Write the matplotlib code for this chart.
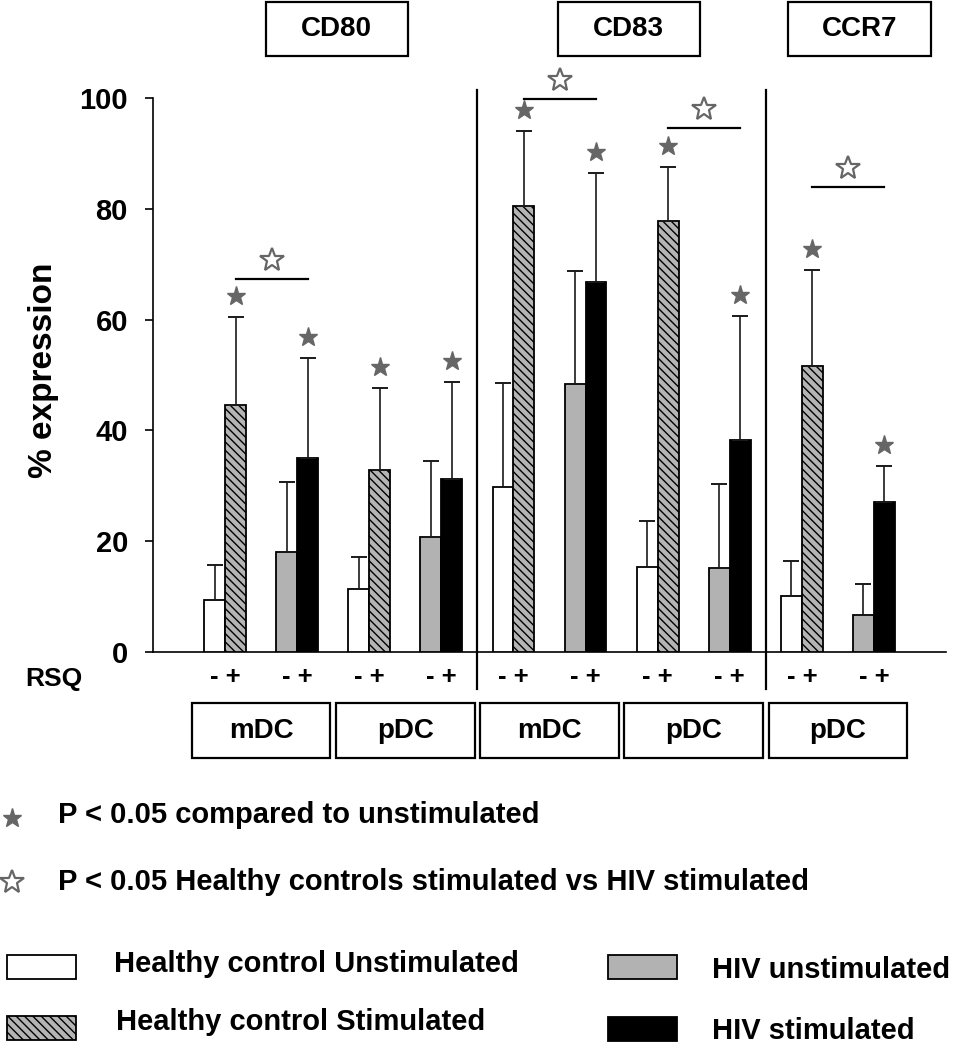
import matplotlib
matplotlib.use('Agg')
import matplotlib.pyplot as plt
import matplotlib.transforms as mtransforms
from matplotlib.patches import Rectangle
import numpy as np

plt.rcParams['font.family'] = ['Liberation Sans', 'DejaVu Sans']
plt.rcParams['font.weight'] = 'bold'
plt.rcParams['hatch.linewidth'] = 1.0

# data (one entry per marker / cell-type group)
markers = ['CD80', 'CD83', 'CCR7']
cells = ['mDC', 'pDC', 'mDC', 'pDC', 'pDC']
healthy_unstim = [9.4, 11.4, 29.7, 15.4, 10.1]
healthy_unstim_sd = [6.3, 5.8, 18.8, 8.3, 6.4]
healthy_stim = [44.5, 32.9, 80.5, 77.8, 51.7]
healthy_stim_sd = [15.9, 14.7, 13.5, 9.7, 17.2]
hiv_unstim = [18.1, 20.8, 48.3, 15.2, 6.7]
hiv_unstim_sd = [12.6, 13.7, 20.4, 15.2, 5.6]
hiv_stim = [35.1, 31.3, 66.7, 38.3, 27.1]
hiv_stim_sd = [17.9, 17.5, 19.7, 22.3, 6.4]
# healthy stimulated vs HIV stimulated comparisons
sig_groups = [0, 2, 3, 4]
sig_line = [67.3, 99.8, 94.6, 83.9]

W, H = 967, 1050
fig = plt.figure(figsize=(W / 100, H / 100), dpi=100)
ax = fig.add_axes([153 / W, 1 - 652 / H, (946 - 153) / W, (652 - 98) / H])

bw = 0.29
hatch_grey = '#b4b4b4'
star_grey = '#666666'
err_kw = dict(ecolor='#1a1a1a', elinewidth=1.2, capsize=6, capthick=1.4)
n = len(cells)
x_h = np.arange(n) * 2.0
x_v = x_h + 1.0

def upper(sd):
    return [np.zeros(len(sd)), sd]

ax.bar(x_h - bw / 2, healthy_unstim, bw, color='white', edgecolor='black', linewidth=1.3,
       yerr=upper(healthy_unstim_sd), error_kw=err_kw, zorder=3)
ax.bar(x_h + bw / 2, healthy_stim, bw, color=hatch_grey, edgecolor='black', linewidth=1.3,
       hatch='\\\\\\\\', yerr=upper(healthy_stim_sd), error_kw=err_kw, zorder=3)
ax.bar(x_v - bw / 2, hiv_unstim, bw, color='#b2b2b2', edgecolor='black', linewidth=1.3,
       yerr=upper(hiv_unstim_sd), error_kw=err_kw, zorder=3)
ax.bar(x_v + bw / 2, hiv_stim, bw, color='black', edgecolor='black', linewidth=1.3,
       yerr=upper(hiv_stim_sd), error_kw=err_kw, zorder=3)

# filled stars: stimulated vs unstimulated
top_h = np.array(healthy_stim) + np.array(healthy_stim_sd)
top_v = np.array(hiv_stim) + np.array(hiv_stim_sd)
ax.plot(x_h + bw / 2, top_h + 3.8, ls='none', marker='*', ms=14, color=star_grey,
        mec=star_grey, clip_on=False, zorder=4)
ax.plot(x_v + bw / 2, top_v + 3.8, ls='none', marker='*', ms=14, color=star_grey,
        mec=star_grey, clip_on=False, zorder=4)

# open stars + lines: healthy stimulated vs HIV stimulated
for g, yl in zip(sig_groups, sig_line):
    x0, x1 = x_h[g] + bw / 2, x_v[g] + bw / 2
    ax.plot([x0, x1], [yl, yl], color='black', lw=1.6, clip_on=False)
    ax.plot((x0 + x1) / 2, yl + 3.4, marker='*', ms=18, mfc='white', mec=star_grey,
            mew=1.6, clip_on=False, zorder=4)

# separators between markers
for xs in [3.5, 7.5]:
    ax.plot([xs, xs], [-6.7, 101.5], color='black', lw=1.6, clip_on=False)

ax.set_xlim(-1, 10)
ax.set_ylim(0, 100)
ax.set_yticks(np.arange(0, 101, 20))
ax.set_xticks([])
ax.tick_params(axis='y', direction='out', length=6, width=1.2, labelsize=21, pad=12)
for s in ['top', 'right']:
    ax.spines[s].set_visible(False)
for s in ['left', 'bottom']:
    ax.spines[s].set_linewidth(1.2)

trans = mtransforms.blended_transform_factory(ax.transData, fig.transFigure)

# RSQ - + labels
for xp in np.arange(2 * n):
    ax.text(xp, 1 - 677 / H, '- +', transform=trans, ha='center', va='center',
            fontsize=18.5, fontweight='bold')
fig.text(25 / W, 1 - 679 / H, 'RSQ', ha='left', va='center', fontsize=19, fontweight='bold')

# cell-type boxes below
for g, c in enumerate(cells):
    cx = x_h[g] + 0.5
    y0, y1 = 1 - 758 / H, 1 - 703 / H
    fig.add_artist(Rectangle((cx - 0.96, y0), 1.92, y1 - y0, transform=trans, fill=False,
                             edgecolor='black', lw=1.6, clip_on=False))
    ax.text(cx, (y0 + y1) / 2, c, transform=trans, ha='center', va='center',
            fontsize=20, fontweight='bold')

# marker boxes on top
for cx, m in zip([1.55, 5.6, 8.8], markers):
    y0, y1 = 1 - 56 / H, 1 - 2 / H
    fig.add_artist(Rectangle((cx - 0.985, y0), 1.97, y1 - y0, transform=trans, fill=False,
                             edgecolor='black', lw=1.6, clip_on=False))
    ax.text(cx, (y0 + y1) / 2, m, transform=trans, ha='center', va='center',
            fontsize=20, fontweight='bold')

fig.text(44 / W, 1 - 370 / H, '% expression', rotation=90, ha='center', va='center',
         fontsize=24, fontweight='bold')

# significance key
fig.lines.append(plt.Line2D([12 / W], [1 - 818 / H], transform=fig.transFigure, ls='none',
                            marker='*', ms=14, color=star_grey, mec=star_grey))
fig.lines.append(plt.Line2D([12 / W], [1 - 882 / H], transform=fig.transFigure, ls='none',
                            marker='*', ms=18, mfc='white', mec=star_grey, mew=1.6))
fig.text(58 / W, 1 - 815 / H, 'P < 0.05 compared to unstimulated', ha='left', va='center',
         fontsize=21, fontweight='bold')
fig.text(58 / W, 1 - 882 / H, 'P < 0.05 Healthy controls stimulated vs HIV stimulated',
         ha='left', va='center', fontsize=21, fontweight='bold')

# bar legend
legend_items = [
    ('Healthy control Unstimulated', 'white', None, 7, 967, 114, 964),
    ('Healthy control Stimulated', hatch_grey, '\\\\\\\\', 7, 1028, 116, 1022),
    ('HIV unstimulated', '#b2b2b2', None, 608, 967, 712, 970),
    ('HIV stimulated', 'black', None, 608, 1029, 712, 1031),
]
for label, fc, hatch, px, py, tx, ty in legend_items:
    fig.add_artist(Rectangle((px / W, 1 - (py + 12) / H), 69 / W, 24 / H,
                             transform=fig.transFigure, facecolor=fc, edgecolor='black',
                             lw=1.3, hatch=hatch))
    fig.text(tx / W, 1 - ty / H, label, ha='left', va='center', fontsize=21,
             fontweight='bold')

fig.savefig('out.png', dpi=100)
